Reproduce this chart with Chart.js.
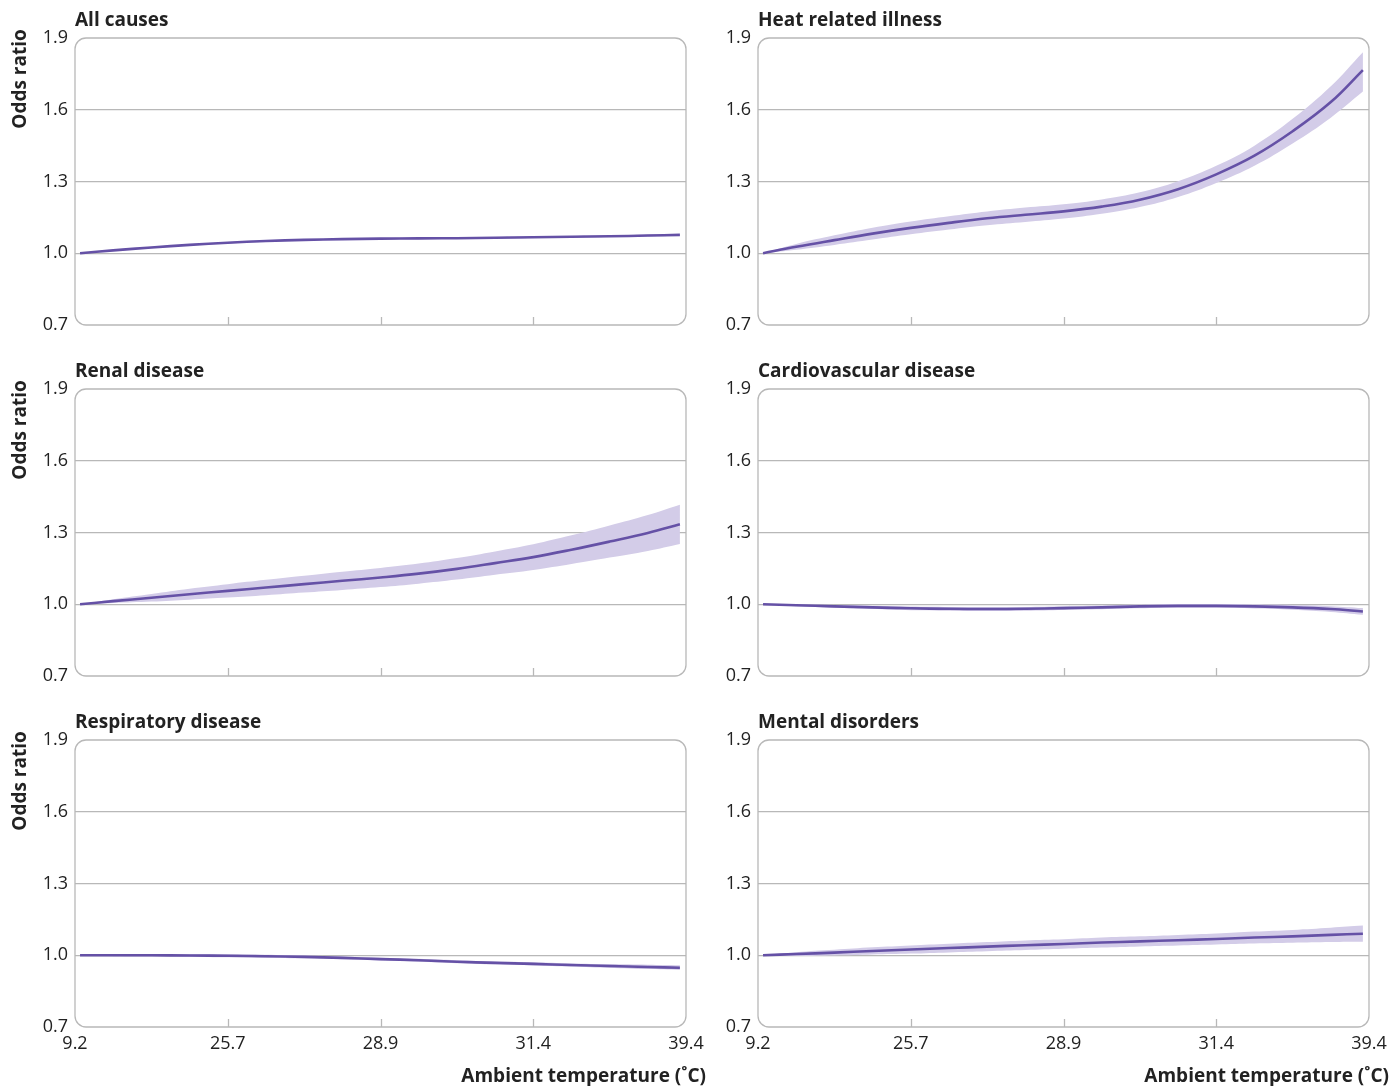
<!DOCTYPE html>
<html>
<head>
<meta charset="utf-8">
<script src="https://cdn.jsdelivr.net/npm/chart.js@4"></script>
<style>
  body { margin: 0; background: #fff; }
  #wrap { position: relative; width: 1392px; height: 1086px; }
  canvas { position: absolute; }
</style>
</head>
<body>
<div id="wrap"></div>
<script>
// x positions are in tick-interval units (0 = 9.2 ... 4 = 39.4, the ticks are evenly spaced)
const xTickLabels = ['9.2', '25.7', '28.9', '31.4', '39.4'];
const xPos = [0.033, 0.25, 0.5, 0.75, 1, 1.25, 1.5, 1.75, 2, 2.25, 2.5, 2.75, 3, 3.25, 3.5, 3.75, 3.96];
const yTicks = [0.7, 1.0, 1.3, 1.6, 1.9];

const panelTitles = ['All causes', 'Heat related illness', 'Renal disease', 'Cardiovascular disease', 'Respiratory disease', 'Mental disorders'];

const allCausesOR = [1.000, 1.012, 1.024, 1.035, 1.044, 1.051, 1.056, 1.059, 1.061, 1.062, 1.063, 1.065, 1.067, 1.069, 1.071, 1.074, 1.077];
const allCausesLo = [1.000, 1.009, 1.021, 1.032, 1.041, 1.048, 1.053, 1.056, 1.058, 1.059, 1.060, 1.062, 1.064, 1.066, 1.068, 1.070, 1.073];
const allCausesHi = [1.000, 1.015, 1.027, 1.038, 1.047, 1.054, 1.059, 1.062, 1.064, 1.065, 1.066, 1.068, 1.070, 1.072, 1.074, 1.078, 1.081];

const heatOR = [1.000, 1.027, 1.055, 1.082, 1.106, 1.127, 1.146, 1.161, 1.175, 1.195, 1.224, 1.268, 1.330, 1.408, 1.510, 1.632, 1.766];
const heatLo = [1.000, 1.015, 1.035, 1.057, 1.079, 1.099, 1.117, 1.131, 1.145, 1.165, 1.193, 1.235, 1.294, 1.366, 1.459, 1.567, 1.676];
const heatHi = [1.000, 1.039, 1.075, 1.107, 1.133, 1.155, 1.175, 1.191, 1.205, 1.225, 1.255, 1.301, 1.366, 1.450, 1.562, 1.698, 1.840];

const renalOR = [1.000, 1.013, 1.027, 1.042, 1.056, 1.070, 1.084, 1.098, 1.112, 1.128, 1.148, 1.172, 1.197, 1.228, 1.262, 1.298, 1.334];
const renalLo = [1.000, 1.005, 1.011, 1.019, 1.028, 1.038, 1.049, 1.060, 1.072, 1.086, 1.103, 1.123, 1.143, 1.168, 1.195, 1.223, 1.252];
const renalHi = [1.000, 1.021, 1.043, 1.065, 1.084, 1.102, 1.119, 1.136, 1.152, 1.170, 1.193, 1.221, 1.251, 1.288, 1.329, 1.373, 1.416];

const cardioOR = [1.000, 0.996, 0.991, 0.987, 0.983, 0.981, 0.980, 0.981, 0.984, 0.987, 0.991, 0.993, 0.993, 0.991, 0.987, 0.980, 0.970];
const cardioLo = [1.000, 0.992, 0.985, 0.980, 0.975, 0.973, 0.972, 0.973, 0.976, 0.979, 0.983, 0.985, 0.985, 0.982, 0.977, 0.968, 0.956];
const cardioHi = [1.000, 1.000, 0.997, 0.994, 0.991, 0.989, 0.988, 0.989, 0.992, 0.995, 0.999, 1.001, 1.001, 1.000, 0.997, 0.992, 0.984];

const respOR = [1.000, 1.000, 1.000, 0.999, 0.998, 0.996, 0.993, 0.989, 0.984, 0.979, 0.973, 0.968, 0.964, 0.959, 0.955, 0.951, 0.948];
const respLo = [1.000, 0.996, 0.995, 0.993, 0.992, 0.990, 0.987, 0.983, 0.978, 0.973, 0.967, 0.962, 0.957, 0.952, 0.947, 0.942, 0.938];
const respHi = [1.000, 1.004, 1.005, 1.005, 1.004, 1.002, 0.999, 0.995, 0.990, 0.985, 0.979, 0.974, 0.971, 0.966, 0.963, 0.960, 0.958];

const mentalOR = [1.000, 1.005, 1.011, 1.018, 1.024, 1.030, 1.036, 1.042, 1.047, 1.053, 1.058, 1.063, 1.068, 1.074, 1.079, 1.085, 1.090];
const mentalLo = [1.000, 0.997, 0.999, 1.003, 1.007, 1.012, 1.017, 1.022, 1.027, 1.032, 1.037, 1.041, 1.045, 1.049, 1.052, 1.055, 1.056];
const mentalHi = [1.000, 1.013, 1.023, 1.033, 1.041, 1.048, 1.055, 1.062, 1.067, 1.074, 1.079, 1.085, 1.091, 1.099, 1.106, 1.115, 1.124];

const series = [
  [allCausesOR, allCausesLo, allCausesHi],
  [heatOR, heatLo, heatHi],
  [renalOR, renalLo, renalHi],
  [cardioOR, cardioLo, cardioHi],
  [respOR, respLo, respHi],
  [mentalOR, mentalLo, mentalHi]
];

const LINE = '#6551a6';
const BAND = '#d3cce8';
const GRID = '#b8b8b8';
const TEXT = '#222222';
const FONT = '"Open Sans", "Noto Sans", sans-serif';

function pts(ys) {
  return ys.map((y, i) => ({ x: xPos[i], y: y }));
}

function roundRect(ctx, x, y, w, h, r) {
  ctx.beginPath();
  ctx.moveTo(x + r, y);
  ctx.lineTo(x + w - r, y);
  ctx.arcTo(x + w, y, x + w, y + r, r);
  ctx.lineTo(x + w, y + h - r);
  ctx.arcTo(x + w, y + h, x + w - r, y + h, r);
  ctx.lineTo(x + r, y + h);
  ctx.arcTo(x, y + h, x, y + h - r, r);
  ctx.lineTo(x, y + r);
  ctx.arcTo(x, y, x + r, y, r);
  ctx.closePath();
}

const panelDeco = {
  id: 'panelDeco',
  afterDraw(chart, args, opts) {
    const ctx = chart.ctx;
    const a = chart.chartArea;
    const xs = chart.scales.x;
    ctx.save();
    // frame
    ctx.strokeStyle = GRID;
    ctx.lineWidth = 1.3;
    roundRect(ctx, a.left, a.top, a.right - a.left, a.bottom - a.top, 11);
    ctx.stroke();
    // inner tick marks
    [1, 2, 3].forEach(v => {
      const px = Math.round(xs.getPixelForValue(v)) + 0.5;
      ctx.beginPath();
      ctx.moveTo(px, a.bottom);
      ctx.lineTo(px, a.bottom - 8);
      ctx.stroke();
    });
    // panel title
    ctx.fillStyle = TEXT;
    ctx.font = 'bold 19px ' + FONT;
    ctx.textAlign = 'left';
    ctx.textBaseline = 'middle';
    ctx.fillText(opts.title, a.left, a.top - 17);
    if (opts.leftCol) {
      ctx.save();
      ctx.translate(21, a.top + 41);
      ctx.rotate(-Math.PI / 2);
      ctx.textAlign = 'center';
      ctx.fillText('Odds ratio', 0, 0);
      ctx.restore();
    }
    if (opts.bottomRow) {
      ctx.textAlign = 'right';
      ctx.fillText('Ambient temperature (˚C)', a.right + 20, a.bottom + 50);
    }
    ctx.restore();
  }
};

const wrap = document.getElementById('wrap');

panelTitles.forEach((title, p) => {
  const col = p % 2;
  const row = Math.floor(p / 2);
  const left = col === 0 ? 0 : 700;
  const width = col === 0 ? 720 : 692;
  const yAxisW = col === 0 ? 75 : 58;
  const padRight = col === 0 ? 34 : 23;
  const top = row * 351;
  const height = row === 2 ? 384 : 351;
  const bottomRow = row === 2;

  const cv = document.createElement('canvas');
  cv.width = width;
  cv.height = height;
  cv.style.left = left + 'px';
  cv.style.top = top + 'px';
  cv.style.width = width + 'px';
  cv.style.height = height + 'px';
  wrap.appendChild(cv);

  const [or, lo, hi] = series[p];

  new Chart(cv, {
    type: 'line',
    data: {
      datasets: [
        { data: pts(or), borderColor: LINE, borderWidth: 2.6, pointRadius: 0, fill: false, tension: 0.4 },
        { data: pts(hi), borderWidth: 0, borderColor: 'rgba(0,0,0,0)', backgroundColor: BAND, pointRadius: 0, fill: '+1', tension: 0.4 },
        { data: pts(lo), borderWidth: 0, borderColor: 'rgba(0,0,0,0)', pointRadius: 0, fill: false, tension: 0.4 }
      ]
    },
    options: {
      responsive: false,
      animation: false,
      events: [],
      layout: { padding: { top: 38, right: padRight, left: 0, bottom: 0 } },
      plugins: {
        legend: { display: false },
        tooltip: { enabled: false },
        panelDeco: { title: title, leftCol: col === 0, bottomRow: bottomRow }
      },
      scales: {
        x: {
          type: 'linear',
          min: 0,
          max: 4,
          grid: { display: false },
          border: { display: false },
          ticks: {
            display: bottomRow,
            stepSize: 1,
            autoSkip: false,
            maxRotation: 0,
            padding: -2,
            color: TEXT,
            font: { family: FONT, size: 18 },
            callback: v => xTickLabels[v]
          },
          afterFit: s => { s.height = height - 38 - 287; }
        },
        y: {
          min: yTicks[0],
          max: yTicks[yTicks.length - 1],
          afterBuildTicks: s => { s.ticks = yTicks.map(v => ({ value: v })); },
          grid: {
            drawTicks: false,
            lineWidth: 1.2,
            color: c => (c.tick && (c.tick.value === yTicks[0] || c.tick.value === yTicks[yTicks.length - 1])) ? 'rgba(0,0,0,0)' : GRID
          },
          border: { display: false },
          ticks: {
            padding: 7,
            color: TEXT,
            font: { family: FONT, size: 18 },
            callback: v => v.toFixed(1)
          },
          afterFit: s => { s.width = yAxisW; }
        }
      }
    },
    plugins: [panelDeco]
  });
});
</script>
</body>
</html>
